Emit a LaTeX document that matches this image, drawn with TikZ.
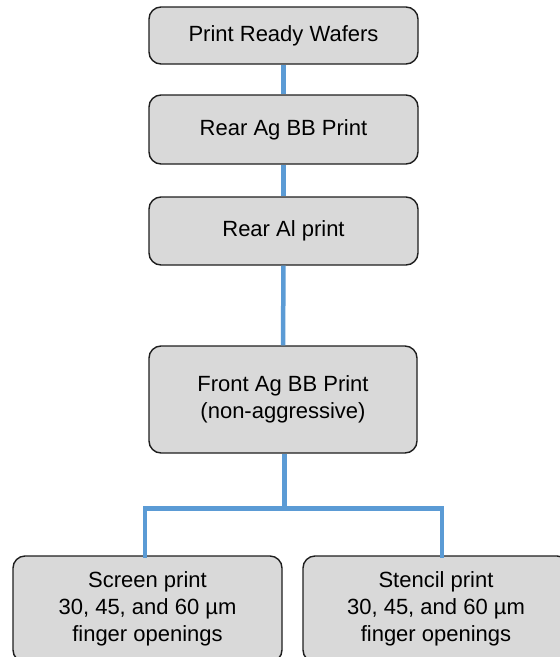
\documentclass[tikz,border=0pt]{standalone}
\usepackage{fontspec}
\setmainfont{Liberation Sans}
\usetikzlibrary{calc}
\definecolor{boxfill}{HTML}{D9D9D9}
\definecolor{boxline}{HTML}{1E1E1E}
\definecolor{linkblue}{HTML}{5B9BD5}
\tikzset{
  stepbox/.style={draw=boxline, line width=1.4pt, fill=boxfill, rounded corners=12pt,
    align=center, inner sep=0pt, text=black,
    font=\fontsize{22}{26.7}\selectfont},
  link/.style={draw=linkblue, line width=4.5pt}
}
\begin{document}
\begin{tikzpicture}[x=1pt,y=-1pt]
\useasboundingbox (0,0) rectangle (560,657);
\clip (0,0) rectangle (560,657);
\node[stepbox, minimum width=269pt, minimum height=57pt] (a) at (283.5,35.5) {Print Ready Wafers};
\node[stepbox, minimum width=269pt, minimum height=69pt] (b) at (283.5,129.5) {Rear Ag BB Print};
\node[stepbox, minimum width=269pt, minimum height=68pt] (c) at (283.5,231) {Rear Al print};
\node[stepbox, minimum width=268pt, minimum height=107pt] (d) at (283,399.5) {Front Ag BB Print\\(non-aggressive)};
\node[stepbox, minimum width=269pt, minimum height=106pt] (e) at (147.5,609) {Screen print\\30, 45, and 60 µm\\finger openings};
\node[stepbox, minimum width=266pt, minimum height=106pt] (f) at (436,609) {Stencil print\\30, 45, and 60 µm\\finger openings};
\draw[link] (a.south) -- (b.north);
\draw[link] (b.south) -- (c.north);
\draw[link] (c.south) -- (d.north);
\draw[link] ($(d.south)+(1.5,0)$) -- ++(0,55) coordinate (j);
\draw[link, line cap=rect] ($(e.north)+(-2.5,0)$) |- (j) -| ($(f.north)+(6,0)$);
\end{tikzpicture}
\end{document}
